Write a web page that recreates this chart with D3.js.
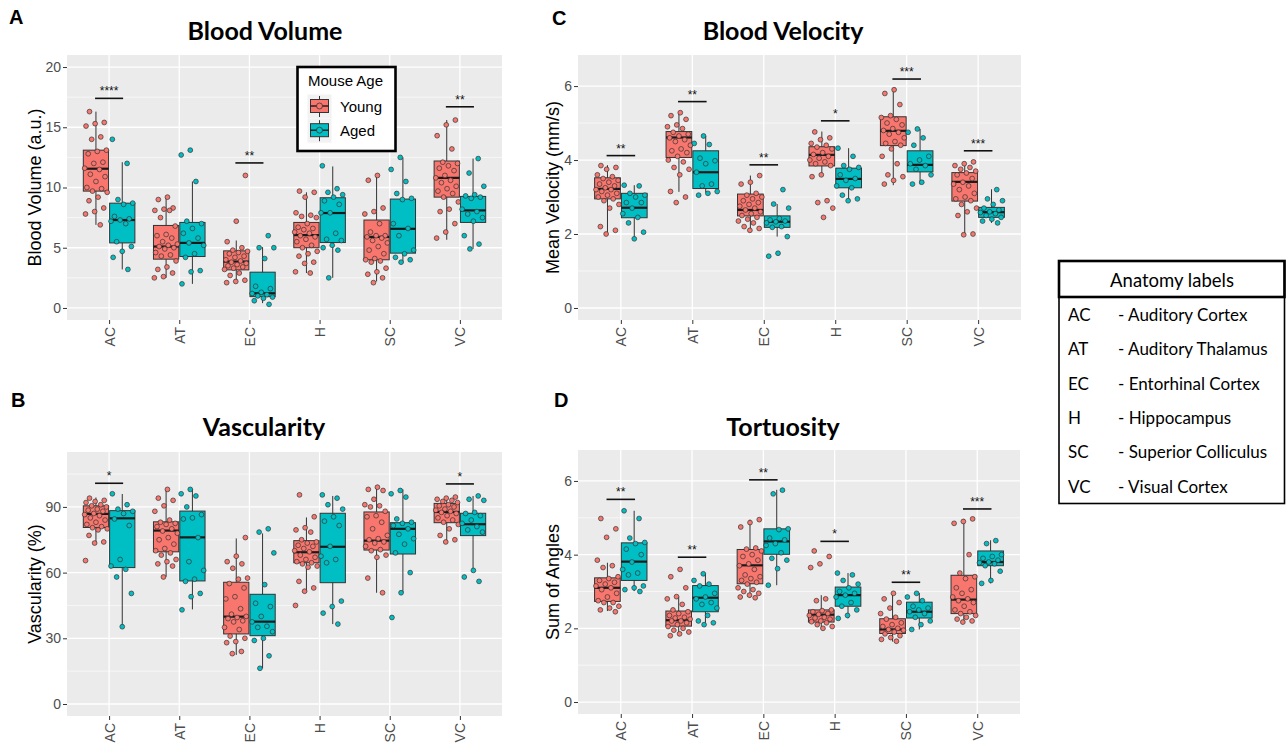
<!DOCTYPE html>
<html><head><meta charset="utf-8">
<script src="https://cdn.jsdelivr.net/npm/d3@7"></script>
<style>body{margin:0;background:#fff}svg{display:block}</style>
</head><body><svg id="c" width="1288" height="743"></svg>
<script>
const categories = ["AC","AT","EC","H","SC","VC"];
const groupNames = ["Young","Aged"];
const groupColors = ["#F8766D","#00BFC4"];
const anatomyNames = ["Auditory Cortex","Auditory Thalamus","Entorhinal Cortex","Hippocampus","Superior Colliculus","Visual Cortex"];

// ---------- Blood Volume (a.u.) ----------
const volumeTicks = [0,5,10,15,20];
const volumeMinor = [2.5,7.5,12.5,17.5];
// [lower whisker, Q1, median, Q3, upper whisker]
const volumeYoungBox = [[6.9,9.7,11.56,13.1,16.3],[2.5,4.05,5.1,6.85,9.2],[2.05,3.16,3.85,4.74,5.6],[2.9,5.0,6.05,7.1,9.6],[2.2,4.0,5.9,7.3,11.0],[5.66,9.2,10.8,12.2,15.6]];
const volumeAgedBox = [[3.2,5.4,7.3,8.7,12.1],[2.0,4.27,5.4,7.1,10.5],[0.4,0.94,1.22,2.97,5.05],[2.5,5.43,7.88,9.15,11.75],[3.77,4.55,6.57,9.04,12.5],[4.9,7.1,8.1,9.26,12.4]];
const volumeYoungPts = [
 [16.3,15.4,15.3,15.1,14.2,14.0,13.1,13.0,12.8,12.1,12.0,11.6,11.5,11.1,10.9,10.5,10.0,9.9,9.7,9.6,9.2,8.9,8.3,8.0,7.8,6.9],
 [9.2,9.0,8.3,8.2,8.1,8.1,7.5,6.8,6.1,6.0,5.8,5.5,5.3,5.2,5.1,5.0,4.9,4.6,4.4,4.3,3.9,3.4,3.2,2.9,2.6,2.5],
 [11.0,7.2,5.5,5.0,4.8,4.7,4.6,4.5,4.3,4.2,4.0,3.9,3.8,3.7,3.6,3.5,3.4,3.3,3.2,2.9,2.7,2.3,2.2,2.1],
 [9.7,9.6,9.2,7.9,7.7,7.6,7.5,7.0,6.7,6.6,6.5,6.3,6.2,6.0,5.9,5.7,5.5,5.2,5.0,4.7,4.5,4.3,3.8,3.7,3.0,2.9],
 [11.0,10.6,8.3,8.0,7.8,7.0,6.3,6.0,6.0,5.9,5.8,5.6,5.4,5.1,4.8,4.5,4.1,4.0,3.9,3.8,3.3,3.0,2.8,2.5,2.1],
 [15.6,15.2,14.3,13.2,12.1,12.0,11.8,11.6,11.4,11.0,10.8,10.6,10.4,10.1,9.9,9.7,9.5,9.2,8.8,8.2,8.0,7.0,6.3,5.8]
];
const volumeAgedPts = [
 [14.0,12.0,9.0,8.7,8.6,7.6,7.4,7.3,7.2,7.0,5.5,5.1,4.7,4.2,3.2],
 [13.1,12.7,10.5,7.2,7.0,6.6,6.2,5.8,5.4,5.2,4.5,4.2,3.1,3.0,2.0],
 [6.0,5.0,5.0,4.1,1.8,1.6,1.3,1.2,1.1,1.0,0.9,0.8,0.6,0.3],
 [11.8,9.9,9.6,9.4,9.2,8.9,8.6,7.9,7.9,6.2,5.7,5.6,5.2,5.0,4.8,2.5],
 [12.5,11.5,10.5,9.5,9.1,9.0,7.0,6.6,6.0,4.8,4.5,4.2,4.0,3.8],
 [12.4,11.2,10.1,9.4,9.3,9.2,9.1,8.2,8.0,7.8,7.5,7.2,6.0,5.3,4.9]
];
const volumeSigLabels = ["****","","**","","","**"];
const volumeSigHeights = [17.4,null,12.04,null,null,16.7];

// ---------- Vascularity (%) ----------
const vascTicks = [0,30,60,90];
const vascMinor = [15,45,75,105];
const vascYoungBox = [[73.4,80.6,86.8,90.5,94.3],[58.1,69.5,79.2,83.2,98.2],[22.4,32.0,39.9,55.6,75.6],[51.3,64.5,69.3,74.6,85.2],[50.8,70.3,74.6,87.7,98.8],[74.1,82.8,87.7,91.6,94.7]];
const vascAgedBox = [[35.3,62.3,84.8,88.3,95.9],[43.2,56.2,76.1,88.1,98.2],[16.3,31.2,37.6,50.1,77.9],[36.5,55.4,71.8,87.1,95.0],[50.8,68.5,80.0,82.8,98.0],[61.2,76.9,82.1,87.1,95.0]];
const vascYoungPts = [
 [94,93,92.5,92,91,90.5,90,89,88.5,88,87,86.5,86,85,84,83,82,81,80.5,80,79.5,77,74,73.5,65.5],
 [98,94,93,90.5,88,84,83,82.5,82,81,80,79,78,76,75,73,71,70,69,68,66,65,64,63,58],
 [76,67.5,65,64,62,57.5,57,55,53,49,48,43.5,41,40,39.5,39,38,37.5,35,34,31,30,28.5,28,24,23],
 [95.5,85.5,80.5,79.5,78.5,75,74,73.5,72.5,72,71,70,69.5,68,67,66,65,64.5,64,63,62.5,56,53,51.5,45],
 [99,98,97.5,93.5,91,90.5,90,88,86,85.5,83,80,77,75.5,75,74,73.5,72,70.5,70,68,67,57.5,50.8],
 [94.5,94,93.5,93,92.5,92,91,90.5,90,89,88.5,88,87.5,87,86,85,84,83,82,80,77,75,74]
];
const vascAgedPts = [
 [96,91,89,88,87,84.5,81.5,66,63,61.5,58,50.5,35.3],
 [98,96,95,90,86.5,85,84.5,76,65,61,57,56,50.5,49,43],
 [80,78.5,69,54.5,46,44.5,40,37.5,35.5,35,33,30,29,22,16.3],
 [95.5,94,91,89,85.5,83.5,81.5,72,67.5,66,64.5,47,44.5,41.5,36.5],
 [97.5,96,94.5,84.5,83,82.5,81.5,80,77.5,75.5,73,69,60,50.8,39.5],
 [95,93.5,93,87.5,87,86,84,82.5,81,79.5,78.5,61,58,56]
];
const vascSigLabels = ["*","","","","","*"];
const vascSigHeights = [100.8,null,null,null,null,100.5];

// ---------- Mean Velocity (mm/s) ----------
const velocityTicks = [0,2,4,6];
const velocityMinor = [1,3,5];
const velocityYoungBox = [[2.0,2.95,3.22,3.52,3.86],[3.14,4.07,4.61,4.77,5.29],[2.11,2.49,2.65,3.08,3.58],[3.58,3.84,4.14,4.36,4.77],[3.32,4.39,4.79,5.17,5.89],[1.99,2.89,3.41,3.66,3.95]];
const velocityAgedBox = [[1.87,2.44,2.71,3.1,3.32],[3.12,3.23,3.67,4.25,4.65],[1.93,2.18,2.33,2.49,2.81],[2.92,3.25,3.49,3.78,4.32],[3.34,3.68,3.87,4.25,4.84],[2.3,2.45,2.59,2.72,3.21]];
const velocityYoungPts = [
 [3.85,3.8,3.75,3.6,3.55,3.5,3.45,3.4,3.35,3.3,3.25,3.2,3.2,3.15,3.1,3.05,3.0,2.95,2.9,2.8,2.7,2.2,2.1,2.0],
 [5.28,5.2,5.1,4.95,4.9,4.85,4.75,4.7,4.65,4.6,4.55,4.5,4.4,4.3,4.25,4.2,4.1,4.0,3.95,3.8,3.75,3.6,3.15,3.0,2.85],
 [3.58,3.4,3.35,3.1,3.05,3.0,2.95,2.9,2.85,2.8,2.75,2.7,2.65,2.6,2.55,2.5,2.45,2.4,2.35,2.3,2.2,2.15,2.1],
 [4.76,4.6,4.55,4.45,4.4,4.35,4.3,4.2,4.15,4.1,4.05,4.0,3.95,3.9,3.85,3.6,3.55,2.9,2.85,2.7,2.45],
 [5.9,5.8,5.5,5.2,5.15,5.1,5.0,4.95,4.85,4.8,4.75,4.7,4.6,4.5,4.45,4.4,4.3,4.1,3.9,3.6,3.55,3.45,3.35],
 [3.95,3.9,3.85,3.8,3.75,3.7,3.65,3.6,3.5,3.4,3.35,3.3,3.2,3.1,3.0,2.95,2.9,2.8,2.7,2.6,2.5,2.0,1.98]
];
const velocityAgedPts = [
 [3.32,3.3,3.1,3.05,3.0,2.85,2.85,2.7,2.55,2.45,2.3,2.05,1.87],
 [4.65,4.45,4.42,4.05,3.98,3.9,3.67,3.35,3.3,3.15,3.1,3.05],
 [3.2,2.81,2.7,2.42,2.38,2.35,2.33,2.3,2.2,2.18,1.93,1.48,1.4],
 [4.32,4.1,3.85,3.8,3.75,3.6,3.5,3.45,3.3,3.25,3.05,2.95,2.9],
 [4.84,4.75,4.6,4.4,4.1,4.0,3.9,3.85,3.75,3.6,3.4,3.35],
 [3.2,2.95,2.9,2.8,2.7,2.65,2.6,2.58,2.55,2.5,2.45,2.4,2.35,2.3]
];
const velocitySigLabels = ["**","**","**","*","***","***"];
const velocitySigHeights = [4.12,5.58,3.87,5.06,6.19,4.25];

// ---------- Tortuosity (Sum of Angles) ----------
const tortTicks = [0,2,4,6];
const tortMinor = [1,3,5];
const tortYoungBox = [[2.47,2.73,3.1,3.37,3.78],[1.79,2.06,2.22,2.47,2.86],[2.83,3.21,3.71,4.14,4.95],[1.99,2.17,2.37,2.5,2.9],[1.64,1.86,1.97,2.26,2.96],[2.17,2.4,2.78,3.44,4.97]];
const tortAgedBox = [[3.01,3.3,3.81,4.32,5.19],[2.15,2.45,2.83,3.16,3.49],[3.17,4.01,4.36,4.7,5.76],[2.27,2.6,2.9,3.12,3.5],[1.97,2.28,2.45,2.71,2.96],[3.22,3.7,3.8,4.1,4.39]];
const tortYoungPts = [
 [4.98,4.7,4.47,3.85,3.7,3.65,3.4,3.35,3.3,3.25,3.2,3.15,3.1,3.05,2.95,2.85,2.75,2.7,2.7,2.6,2.55,2.5,2.45],
 [3.6,3.4,3.1,2.86,2.8,2.65,2.5,2.45,2.4,2.35,2.3,2.28,2.25,2.2,2.2,2.15,2.1,2.05,2.0,1.95,1.9,1.85,1.8],
 [4.95,4.87,4.75,4.18,4.15,4.1,4.0,3.95,3.85,3.75,3.7,3.6,3.45,3.4,3.35,3.3,3.25,3.2,3.1,3.05,3.0,2.95,2.9,2.85,2.83],
 [4.1,3.95,3.75,3.65,2.8,2.75,2.5,2.48,2.45,2.4,2.38,2.35,2.3,2.28,2.25,2.2,2.18,2.15,2.1,2.05,2.0],
 [2.95,2.8,2.7,2.55,2.4,2.3,2.25,2.15,2.1,2.05,2.0,1.97,1.95,1.9,1.85,1.8,1.75,1.7,1.65],
 [4.97,4.9,4.85,4.0,3.5,3.4,3.35,3.1,3.05,2.95,2.85,2.8,2.75,2.7,2.6,2.5,2.45,2.4,2.35,2.3,2.25,2.2,2.17]
];
const tortAgedPts = [
 [5.19,4.98,4.45,4.33,4.3,4.15,4.0,3.8,3.6,3.5,3.45,3.15,3.1,3.05,3.0],
 [3.48,3.3,3.2,3.15,2.95,2.85,2.8,2.7,2.65,2.55,2.35,2.2,2.15,2.1],
 [5.75,5.65,4.7,4.68,4.45,4.4,4.3,4.25,4.05,3.9,3.85,3.62,3.17],
 [3.5,3.45,3.3,3.2,3.1,3.0,2.95,2.9,2.85,2.7,2.6,2.5,2.35,2.27],
 [2.95,2.85,2.75,2.6,2.55,2.5,2.45,2.4,2.3,2.2,2.1,1.97],
 [4.38,4.3,4.0,3.95,3.9,3.85,3.8,3.78,3.75,3.7,3.55,3.3,3.22]
];
const tortSigLabels = ["**","**","**","*","**","***"];
const tortSigHeights = [5.5,3.93,6.03,4.36,3.25,5.24];

// ---------- drawing ----------
const svg = d3.select("#c");
const AXFONT = "'Liberation Sans', Arial, sans-serif";
const TITLEFONT = "Lato, 'Open Sans', sans-serif";

function jitter(i){ return ((i*0.6180339887 + 0.23) % 1) - 0.5; }

function drawPanel(c){
  const g = svg.append("g");
  const x = d3.scalePoint().domain(categories).range([c.x0, c.x1]).padding(0.6);
  const step = x.step();
  const y = d3.scaleLinear().domain(c.domain).range([c.y1, c.y0]);

  g.append("rect").attr("x",c.x0).attr("y",c.y0).attr("width",c.x1-c.x0).attr("height",c.y1-c.y0).attr("fill","#ebebeb");
  g.selectAll(".mn").data(c.minor).join("line")
    .attr("x1",c.x0).attr("x2",c.x1).attr("y1",d=>y(d)).attr("y2",d=>y(d))
    .attr("stroke","#fff").attr("stroke-width",0.6);
  g.selectAll(".mj").data(c.ticks).join("line")
    .attr("x1",c.x0).attr("x2",c.x1).attr("y1",d=>y(d)).attr("y2",d=>y(d))
    .attr("stroke","#fff").attr("stroke-width",1.3);
  g.selectAll(".vx").data(categories).join("line")
    .attr("x1",d=>x(d)).attr("x2",d=>x(d)).attr("y1",c.y0).attr("y2",c.y1)
    .attr("stroke","#fff").attr("stroke-width",1.3);

  // axes
  const ya = g.append("g").attr("transform",`translate(${c.x0},0)`)
    .call(d3.axisLeft(y).tickValues(c.ticks).tickSize(4).tickPadding(2).tickFormat(d3.format("d")));
  ya.select(".domain").remove();
  ya.selectAll(".tick line").attr("stroke","#333");
  ya.selectAll(".tick text").attr("fill","#4d4d4d").style("font-family",AXFONT).style("font-size","14px");
  const xa = g.append("g").attr("transform",`translate(0,${c.y1})`)
    .call(d3.axisBottom(x).tickSize(4).tickPadding(3));
  xa.select(".domain").remove();
  xa.selectAll(".tick line").attr("stroke","#333");
  xa.selectAll(".tick text").attr("fill","#4d4d4d").style("font-family",AXFONT).style("font-size","14px")
    .attr("transform","rotate(-90)").attr("text-anchor","end").attr("x",-7).attr("y",0).attr("dy","0.36em");

  const boxW = 0.36*step;
  const sets = [[c.youngBox,c.youngPts,-1],[c.agedBox,c.agedPts,1]];
  sets.forEach(([boxes,pts,side],gi)=>{
    categories.forEach((cat,ci)=>{
      const cx = x(cat) + side*0.1875*step;
      const b = boxes[ci];
      g.append("line").attr("x1",cx).attr("x2",cx).attr("y1",y(b[0])).attr("y2",y(b[4]))
        .attr("stroke","#333").attr("stroke-width",1);
      g.append("rect").attr("x",cx-boxW/2).attr("width",boxW).attr("y",y(b[3])).attr("height",y(b[1])-y(b[3]))
        .attr("fill",groupColors[gi]).attr("stroke","#333").attr("stroke-width",1);
      g.append("line").attr("x1",cx-boxW/2).attr("x2",cx+boxW/2).attr("y1",y(b[2])).attr("y2",y(b[2]))
        .attr("stroke","#1a1a1a").attr("stroke-width",2.2);
    });
  });
  sets.forEach(([boxes,pts,side],gi)=>{
    categories.forEach((cat,ci)=>{
      const cx = x(cat) + side*0.1875*step;
      g.selectAll(null).data(pts[ci]).join("circle")
        .attr("cx",(d,i)=>cx + jitter(i+ci*7+gi*3)*0.34*step)
        .attr("cy",d=>y(d)).attr("r",2.4)
        .attr("fill",groupColors[gi]).attr("stroke","#333").attr("stroke-width",0.7);
    });
  });
  // significance
  categories.forEach((cat,ci)=>{
    const h = c.sigHeights[ci];
    if(h==null) return;
    const yy = y(h);
    g.append("line").attr("x1",x(cat)-0.2*step).attr("x2",x(cat)+0.2*step).attr("y1",yy).attr("y2",yy)
      .attr("stroke","#111").attr("stroke-width",1.6);
    g.append("text").attr("x",x(cat)).attr("y",yy-3).attr("text-anchor","middle")
      .style("font-family",AXFONT).style("font-size","12px").attr("fill","#111").text(c.sigLabels[ci]);
  });
  // titles
  svg.append("text").attr("x",c.titleX).attr("y",c.titleY).attr("text-anchor","middle")
    .style("font-family",TITLEFONT).style("font-weight","bold").style("font-size","25px").text(c.title);
  svg.append("text").attr("transform",`translate(${c.ylabX},${(c.y0+c.y1)/2}) rotate(-90)`).attr("text-anchor","middle")
    .style("font-family",AXFONT).style("font-size","18px").text(c.ylab);
  svg.append("text").attr("x",c.letterX).attr("y",c.letterY)
    .style("font-family",AXFONT).style("font-weight","bold").style("font-size","20px").text(c.letter);
}

drawPanel({x0:67,x1:502,y0:55,y1:320,domain:[-1,21],ticks:volumeTicks,minor:volumeMinor,
  youngBox:volumeYoungBox,agedBox:volumeAgedBox,youngPts:volumeYoungPts,agedPts:volumeAgedPts,
  sigLabels:volumeSigLabels,sigHeights:volumeSigHeights,title:"Blood Volume",titleX:265,titleY:40,
  ylab:"Blood Volume (a.u.)",ylabX:41,letter:"A",letterX:9,letterY:24});
drawPanel({x0:67,x1:502,y0:452,y1:716,domain:[-5.48,115.08],ticks:vascTicks,minor:vascMinor,
  youngBox:vascYoungBox,agedBox:vascAgedBox,youngPts:vascYoungPts,agedPts:vascAgedPts,
  sigLabels:vascSigLabels,sigHeights:vascSigHeights,title:"Vascularity",titleX:264,titleY:436,
  ylab:"Vascularity (%)",ylabX:41,letter:"B",letterX:11,letterY:407});
drawPanel({x0:578,x1:1021,y0:55,y1:320,domain:[-0.325,6.84],ticks:velocityTicks,minor:velocityMinor,
  youngBox:velocityYoungBox,agedBox:velocityAgedBox,youngPts:velocityYoungPts,agedPts:velocityAgedPts,
  sigLabels:velocitySigLabels,sigHeights:velocitySigHeights,title:"Blood Velocity",titleX:783,titleY:40,
  ylab:"Mean Velocity (mm/s)",ylabX:559,letter:"C",letterX:552,letterY:25});
drawPanel({x0:578,x1:1020,y0:450,y1:714,domain:[-0.325,6.84],ticks:tortTicks,minor:tortMinor,
  youngBox:tortYoungBox,agedBox:tortAgedBox,youngPts:tortYoungPts,agedPts:tortAgedPts,
  sigLabels:tortSigLabels,sigHeights:tortSigHeights,title:"Tortuosity",titleX:783,titleY:436,
  ylab:"Sum of Angles",ylabX:559,letter:"D",letterX:554,letterY:407});

// legend (Mouse Age)
const lg = svg.append("g");
lg.append("rect").attr("x",297.5).attr("y",67).attr("width",98).attr("height",84)
  .attr("fill","#fff").attr("stroke","#000").attr("stroke-width",2.6);
lg.append("text").attr("x",308).attr("y",86).style("font-family",AXFONT).style("font-size","15px").text("Mouse Age");
groupNames.forEach((nm,i)=>{
  const ky = 94.5 + i*24.2;
  lg.append("rect").attr("x",307.5).attr("y",ky).attr("width",24).attr("height",24).attr("fill","#f2f2f2");
  lg.append("line").attr("x1",319.5).attr("x2",319.5).attr("y1",ky+1.5).attr("y2",ky+22.5).attr("stroke","#333").attr("stroke-width",1);
  lg.append("rect").attr("x",310.5).attr("y",ky+5).attr("width",18).attr("height",13).attr("fill",groupColors[i]).attr("stroke","#333").attr("stroke-width",1);
  lg.append("line").attr("x1",310.5).attr("x2",328.5).attr("y1",ky+11.5).attr("y2",ky+11.5).attr("stroke","#1a1a1a").attr("stroke-width",1.4);
  lg.append("circle").attr("cx",319.5).attr("cy",ky+11.5).attr("r",3).attr("fill",groupColors[i]).attr("stroke","#333").attr("stroke-width",0.8);
  lg.append("text").attr("x",340).attr("y",ky+17).style("font-family",AXFONT).style("font-size","15px").text(nm);
});

// anatomy labels table
const tb = svg.append("g");
tb.append("rect").attr("x",1059).attr("y",261).attr("width",225.5).attr("height",242.5)
  .attr("fill","#fff").attr("stroke","#000").attr("stroke-width",1.6);
tb.append("rect").attr("x",1059).attr("y",261).attr("width",225.5).attr("height",36)
  .attr("fill","none").attr("stroke","#000").attr("stroke-width",2.6);
tb.append("text").attr("x",1172).attr("y",287).attr("text-anchor","middle")
  .style("font-family",TITLEFONT).style("font-size","18.5px").text("Anatomy labels");
categories.forEach((cat,i)=>{
  const ty = 321 + i*34.35;
  tb.append("text").attr("x",1068).attr("y",ty).style("font-family",TITLEFONT).style("font-size","17px").text(cat);
  tb.append("text").attr("x",1118).attr("y",ty).style("font-family",TITLEFONT).style("font-size","17px").text("- "+anatomyNames[i]);
});
</script></body></html>
